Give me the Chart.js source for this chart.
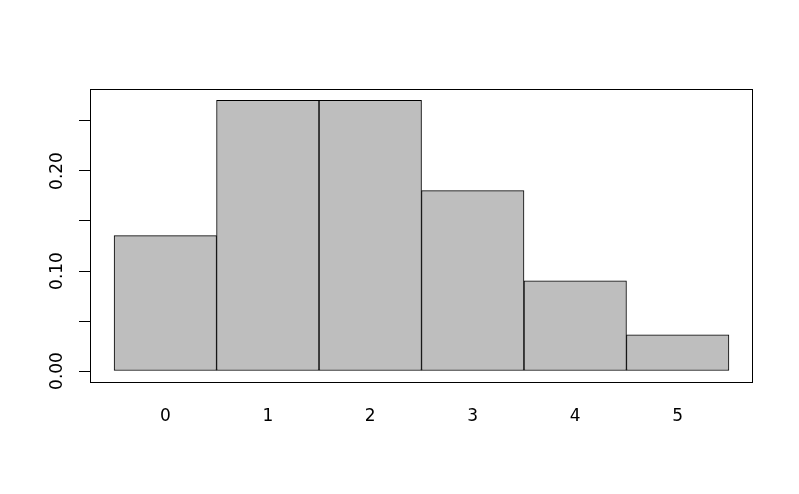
<!DOCTYPE html>
<html>
<head>
<meta charset="utf-8">
<script src="https://cdn.jsdelivr.net/npm/chart.js@4"></script>
<style>
  html, body { margin: 0; padding: 0; background: #ffffff; }
  #wrap { width: 799px; height: 494px; }
</style>
</head>
<body>
<div id="wrap"><canvas id="histChart"></canvas></div>
<script>
// valeurs (loi de Poisson, lambda = 2)
const categories = [0, 1, 2, 3, 4, 5];
const probs = [0.1353, 0.2707, 0.2707, 0.1804, 0.0902, 0.0361];
const yTicks = [0, 0.05, 0.10, 0.15, 0.20, 0.25];
const yLabels = ['0.00', '', '0.10', '', '0.20', ''];

const fontFamily = '"DejaVu Sans", sans-serif';
const fontSize = 17;

// construit les points {x, y} pour l'axe lineaire
function createPoints() {
  var pts = [];
  for (var i = 0; i < categories.length; i++) {
    pts.push({ x: categories[i], y: probs[i] });
  }
  return pts;
}

// cadre autour de la zone du graphique + labels y tournes
const boxPlugin = {
  id: 'boxPlugin',
  afterDraw(chart) {
    const ctx = chart.ctx;
    const a = chart.chartArea;
    ctx.save();
    ctx.strokeStyle = '#000000';
    ctx.lineWidth = 1;
    ctx.strokeRect(Math.round(a.left) + 0.5, Math.round(a.top) + 0.5,
      Math.round(a.right - a.left), Math.round(a.bottom - a.top));

    const yScale = chart.scales.y;
    ctx.fillStyle = '#000000';
    ctx.font = fontSize + 'px ' + fontFamily;
    ctx.textAlign = 'center';
    ctx.textBaseline = 'middle';
    for (var i = 0; i < yTicks.length; i++) {
      if (yLabels[i] === '') continue;
      const py = yScale.getPixelForValue(yTicks[i]);
      ctx.save();
      ctx.translate(58, py);
      ctx.rotate(-Math.PI / 2);
      ctx.fillText(yLabels[i], 0, 0);
      ctx.restore();
    }
    ctx.restore();
  }
};

const data = {
  datasets: [{
    label: 'dpois',
    data: createPoints(),
    backgroundColor: '#bebebe',
    borderColor: '#000000',
    borderWidth: 1,
    borderSkipped: false,
    barPercentage: 1,
    categoryPercentage: 1
  }]
};

const config = {
  type: 'bar',
  data: data,
  options: {
    responsive: true,
    maintainAspectRatio: false,
    animation: false,
    devicePixelRatio: 1,
    layout: { padding: { top: 89, right: 47, left: 0, bottom: 0 } },
    plugins: {
      legend: { display: false },
      tooltip: { enabled: false }
    },
    scales: {
      x: {
        type: 'linear',
        offset: false,
        min: -0.735,
        max: 5.725,
        afterBuildTicks: function (scale) {
          scale.ticks = categories.map(function (v) { return { value: v }; });
        },
        afterFit: function (scale) { scale.height = 112; },
        grid: { display: false, drawTicks: false },
        border: { display: false },
        ticks: {
          color: '#000000',
          font: { family: fontFamily, size: fontSize },
          padding: 24,
          maxRotation: 0,
          callback: function (v) { return String(v); }
        }
      },
      y: {
        type: 'linear',
        min: -0.011,
        max: 0.282,
        afterBuildTicks: function (scale) {
          scale.ticks = yTicks.map(function (v) { return { value: v }; });
        },
        afterFit: function (scale) { scale.width = 90; },
        grid: {
          display: true,
          drawOnChartArea: false,
          drawTicks: true,
          tickLength: 11,
          color: '#000000',
          lineWidth: 1
        },
        border: { display: false },
        ticks: {
          display: false
        }
      }
    }
  },
  plugins: [boxPlugin]
};

const histChart = new Chart(document.getElementById('histChart'), config);
</script>
</body>
</html>
